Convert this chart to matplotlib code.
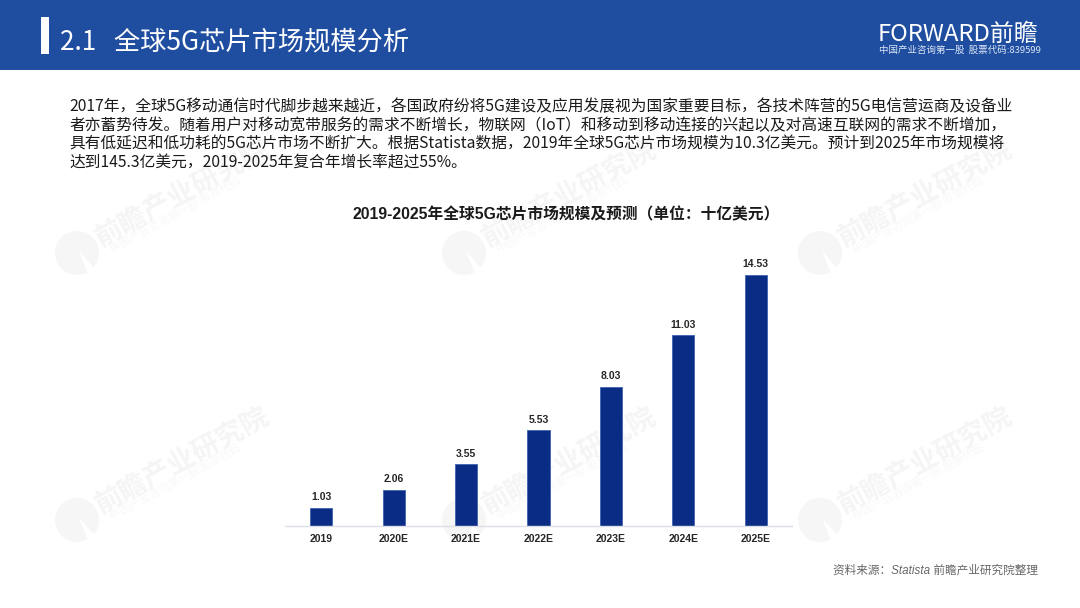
import matplotlib
matplotlib.use("Agg")
import matplotlib.pyplot as plt
from matplotlib.patches import Rectangle, Circle, Wedge

plt.rcParams['font.family'] = ['Noto Sans CJK SC', 'DejaVu Sans']
ARIAL_CJK = ['Liberation Sans', 'Noto Sans CJK SC']

categories = ['2019', '2020E', '2021E', '2022E', '2023E', '2024E', '2025E']
values = [1.03, 2.06, 3.55, 5.53, 8.03, 11.03, 14.53]
value_labels = ['1.03', '2.06', '3.55', '5.53', '8.03', '11.03', '14.53']
header_title = '2.1   全球5G芯片市场规模分析'
chart_title = '2019-2025年全球5G芯片市场规模及预测（单位：十亿美元）'
source_note = '资料来源：Statista 前瞻产业研究院整理'
body_lines = [
    '2017年，全球5G移动通信时代脚步越来越近，各国政府纷将5G建设及应用发展视为国家重要目标，各技术阵营的5G电信营运商及设备业',
    '者亦蓄势待发。随着用户对移动宽带服务的需求不断增长，物联网（IoT）和移动到移动连接的兴起以及对高速互联网的需求不断增加，',
    '具有低延迟和低功耗的5G芯片市场不断扩大。根据Statista数据，2019年全球5G芯片市场规模为10.3亿美元。预计到2025年市场规模将',
    '达到145.3亿美元，2019-2025年复合年增长率超过55%。',
]
W, H = 1080, 608
fig = plt.figure(figsize=(W / 100, H / 100), dpi=100, facecolor='white')
bg = fig.add_axes([0, 0, 1, 1])
bg.set_xlim(0, W)
bg.set_ylim(H, 0)
bg.axis('off')

# header
bg.add_patch(Rectangle((0, 0), W, 70, color='#1F4EA1', lw=0))
bg.add_patch(Rectangle((41, 17), 8, 37, color='white', lw=0))
bg.text(60, 42, header_title, color='white', fontsize=18.9, va='center', ha='left')
bg.text(878, 34, 'FORWARD前瞻', color='white', fontsize=17.2, va='center', ha='left', fontweight='medium')
bg.text(879, 50, '中国产业咨询第一股  股票代码:839599', color='#DCE6F5', fontsize=6.8, va='center', ha='left')

# watermarks
for x, y in [(77, 253), (464, 253), (820, 253), (77, 520), (464, 520), (820, 520)]:
    bg.add_patch(Circle((x, y), 22, color='#F6F6F6', lw=0, zorder=0.5))
    bg.add_patch(Wedge((x + 2, y - 2), 24, 48, 68, color='white', lw=0, zorder=0.55))
    bg.text(x + 20, y - 14, '前瞻产业研究院', color='#F5F5F5', fontsize=20, rotation=28.5,
            rotation_mode='anchor', ha='left', va='center', fontweight='bold', zorder=0.6)
    bg.text(x + 34, y - 3, '中国产业咨询第一股 股票代码', color='#F8F8F8', fontsize=8, rotation=28.5,
            rotation_mode='anchor', ha='left', va='center', zorder=0.6)

# body
for y, line in zip([107, 125.5, 144, 163], body_lines):
    bg.text(69, y, line, color='#1A1A1A', fontsize=11.3, va='center', ha='left')

bg.text(566, 215, chart_title, color='#1A1A1A', fontsize=11.3, fontweight='bold', ha='center', va='center',
        family=ARIAL_CJK)
bg.text(1038, 571, source_note, color='#666666', fontsize=8.4, style='italic', ha='right', va='center',
        family=ARIAL_CJK)

# chart
ax = fig.add_axes([285 / W, 1 - 525.5 / H, 507 / W, 276 / H])
ax.patch.set_alpha(0)
bars = ax.bar(categories, values, width=0.305, color='#0B2C84', edgecolor='#3F63AE', linewidth=0.6)
ax.set_xlim(-0.5, 6.5)
ax.set_ylim(0, 16)
ax.yaxis.set_visible(False)
for s in ['top', 'left', 'right']:
    ax.spines[s].set_visible(False)
ax.spines['bottom'].set_color('#DDDFE6')
ax.spines['bottom'].set_linewidth(1)
ax.tick_params(axis='x', length=0, pad=6, labelsize=7.5)
for t in ax.get_xticklabels():
    t.set_fontfamily(['Liberation Sans', 'DejaVu Sans'])
    t.set_fontweight('bold')
    t.set_color('#262626')
for b, lab in zip(bars, value_labels):
    ax.annotate(lab, (b.get_x() + b.get_width() / 2, b.get_height()), xytext=(0, 4),
                textcoords='offset points', ha='center', va='bottom', fontsize=7.5,
                fontweight='bold', color='#262626', family=['Liberation Sans', 'DejaVu Sans'])

fig.savefig('out.png', dpi=100)
